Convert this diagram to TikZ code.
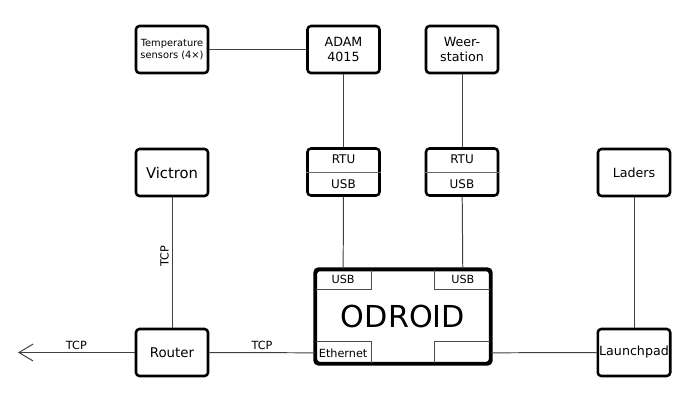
\documentclass[tikz,border=0pt]{standalone}
\usepackage{fontspec}
\setmainfont{DejaVu Sans}
\usetikzlibrary{positioning,arrows.meta}

\tikzset{
  unit/.style={draw, line width=1.8pt, rounded corners=2.5pt, minimum width=1.8cm,
    minimum height=1.175cm, inner sep=1pt, align=center,
    font=\fontsize{9}{11}\selectfont},
  smallunit/.style={unit, font=\fontsize{7}{9}\selectfont},
  half/.style={minimum width=1.8cm, minimum height=0.6cm, inner sep=0pt,
    font=\fontsize{8.5}{10}\selectfont},
  port/.style={draw=black!70, line width=0.6pt, minimum width=1.4cm,
    minimum height=0.5cm, inner sep=0pt, font=\fontsize{8}{10}\selectfont},
  link/.style={draw=black!75, line width=0.7pt},
  lbl/.style={font=\fontsize{8}{10}\selectfont, inner sep=2pt},
}

\begin{document}
\begin{tikzpicture}[x=0.025cm, y=-0.025cm]
  \useasboundingbox (0,0) rectangle (698,415);

  % top row
  \node[smallunit] (temp) at (172,49.5) {Temperature\\sensors (4×)};
  \node[unit] (adam) at (343.5,49.5) {ADAM\\4015};
  \node[unit] (weer) at (462,49.5) {Weer-\\station};

  % middle row
  \node[unit, font=\fontsize{10.5}{12}\selectfont] (victron) at (172,172.5) {Victron};
  \node[unit] (rtuA) at (343.5,172) {};
  \node[unit] (rtuB) at (462,172) {};
  \node[unit] (laders) at (634,172.5) {Laders};
  \foreach \r in {rtuA,rtuB} {
    \draw[draw=black!60, line width=0.6pt] (\r.west) -- (\r.east);
    \node[half, anchor=south] (\r top) at (\r.center) {RTU};
    \node[half, anchor=north] (\r bot) at (\r.center) {USB};
  }

  % bottom row
  \node[unit, minimum width=4.35cm, minimum height=2.325cm,
    font=\fontsize{21.5}{24}\selectfont] (odroid) at (403,316.5) {ODROID};
  \node[port, anchor=north west] (usbA) at (odroid.north west) {USB};
  \node[port, anchor=north east] (usbB) at (odroid.north east) {USB};
  \node[port, anchor=south west, minimum height=0.55cm] (eth) at (odroid.south west) {Ethernet};
  \node[port, anchor=south east, minimum height=0.55cm] (spare) at (odroid.south east) {};
  % outer border again, over the ports
  \draw[line width=1.8pt, rounded corners=2.5pt] (odroid.north west) rectangle (odroid.south east);
  \node[unit, font=\fontsize{9.5}{11}\selectfont] (router) at (172,352.5) {Router};
  \node[unit] (launchpad) at (634,352.5) {Launchpad};
  \coordinate (outlet) at (18,352.5);

  % connections
  \draw[link] (temp) -- (adam);
  \draw[link] (adam) -- (rtuA);
  \draw[link] (weer) -- (rtuB);
  \draw[link] (rtuA) -- (usbA);
  \draw[link] (rtuB) -- (usbB);
  \draw[link] (router) -- node[lbl, sloped, above, pos=0.55] {TCP} (victron);
  \draw[link] (router) -- node[lbl, above] {TCP} (eth);
  \draw[link, -{Straight Barb[length=10pt, width=12pt]}] (router)
    -- node[lbl, above] {TCP} (outlet);
  \draw[link] (spare) -- (launchpad);
  \draw[link] (laders) -- (launchpad);
\end{tikzpicture}
\end{document}
